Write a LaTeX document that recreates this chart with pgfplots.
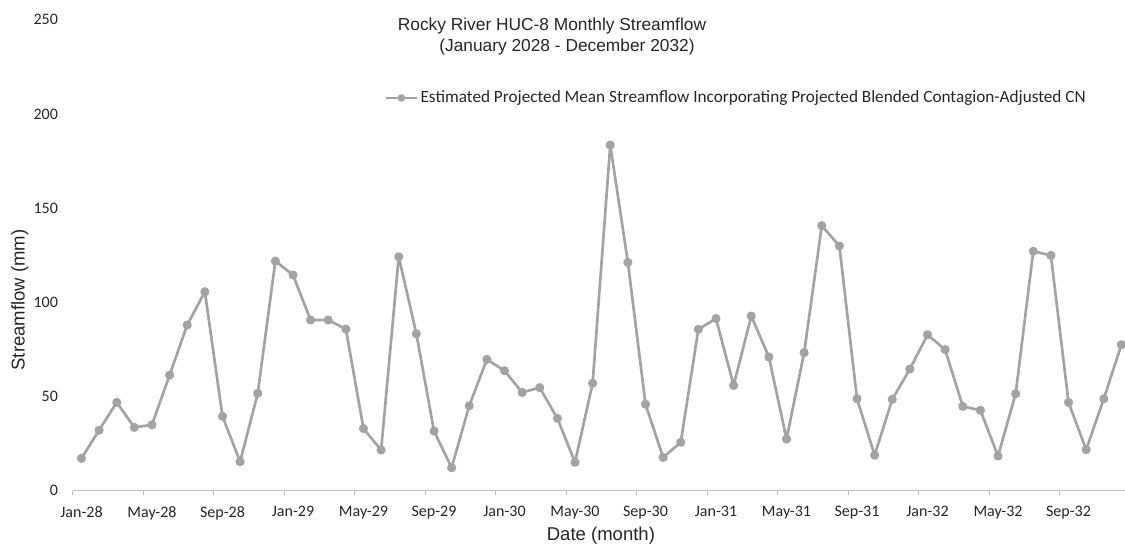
\documentclass[border=0pt]{standalone}
\usepackage{fontspec}
\setmainfont{Carlito}
\newfontfamily\arial{Liberation Sans}
\usepackage{pgfplots}
\pgfplotsset{compat=1.18}
\definecolor{flowgray}{RGB}{163,163,163}
\definecolor{axisgray}{RGB}{190,190,190}

\begin{document}
\begin{tikzpicture}
\path[use as bounding box] (0,0) rectangle (843.75pt,408.75pt);
\begin{axis}[
    at={(54.5pt,40.7pt)}, anchor=south west,
    scale only axis,
    width=789.2pt, height=353.25pt,
    xmin=-0.5, xmax=59.2,
    ymin=0, ymax=250,
    clip=false,
    axis x line=bottom, axis y line=left,
    x axis line style={-, draw=axisgray, line width=1pt},
    y axis line style={draw=none},
    ytick={0,50,...,250},
    ytick style={draw=none},
    xtick={0,4,...,56},
    xticklabels={Jan-28,May-28,Sep-28,Jan-29,May-29,Sep-29,Jan-30,May-30,Sep-30,Jan-31,May-31,Sep-31,Jan-32,May-32,Sep-32},
    minor xtick={-0.5,3.5,...,55.5},
    major tick length=0pt,
    minor tick length=3.5pt,
    tick align=outside,
    x tick style={draw=axisgray, line width=0.8pt},
    tick label style={font=\fontsize{12}{14}\selectfont, text=black!85},
    /pgf/number format/assume math mode=true,
    yticklabel style={xshift=-7.5pt},
    xticklabel style={yshift=-8pt},
    xlabel={Date (month)},
    ylabel={Streamflow (mm)},
    label style={font=\arial\fontsize{13.9}{15}\selectfont, text=black!85},
    xlabel style={at={(axis description cs:0.502,-0.1047)}, anchor=base},
    ylabel style={at={(axis description cs:-0.0501,0.405)}, anchor=center},
    legend style={at={(axis description cs:0.631,0.834)}, anchor=center,
        draw=none, fill=none, font=\fontsize{12.9}{14}\selectfont, text=black!85},
    legend image code/.code={\draw[mark repeat=2,mark phase=2,mark size=1.8pt] plot coordinates {(0cm,0cm) (0.4cm,0cm) (0.8cm,0cm)};},
]
\addplot[color=flowgray, line width=2pt, line join=round, mark=*, mark size=2.4pt, mark options={fill=flowgray}]
coordinates {
(0,17.2) (1,32.1) (2,46.9) (3,33.6) (4,35.0) (5,61.4) (6,88.0) (7,105.6) (8,39.5) (9,15.4)
(10,51.7) (11,121.9) (12,114.5) (13,90.6) (14,90.6) (15,85.8) (16,33.0) (17,21.6) (18,124.2) (19,83.3)
(20,31.7) (21,12.2) (22,45.1) (23,69.7) (24,63.7) (25,52.2) (26,54.7) (27,38.4) (28,15.1) (29,57.0)
(30,183.5) (31,121.2) (32,45.9) (33,17.7) (34,25.7) (35,85.7) (36,91.4) (37,55.9) (38,92.7) (39,71.0)
(40,27.4) (41,73.3) (42,140.7) (43,129.9) (44,48.8) (45,18.9) (46,48.5) (47,64.6) (48,82.8) (49,74.9)
(50,44.8) (51,42.7) (52,18.4) (53,51.5) (54,127.1) (55,124.9) (56,46.9) (57,21.8) (58,48.8) (59,77.5)
};
\addlegendentry{Estimated Projected Mean Streamflow Incorporating Projected Blended Contagion-Adjusted CN}
\end{axis}
\node[font=\arial\fontsize{13}{15}\selectfont, text=black!85, anchor=base] at (414pt,385.5pt) {Rocky River HUC-8 Monthly Streamflow};
\node[font=\arial\fontsize{13}{15}\selectfont, text=black!85, anchor=base] at (425.25pt,370pt) {(January 2028 - December 2032)};
\end{tikzpicture}
\end{document}
